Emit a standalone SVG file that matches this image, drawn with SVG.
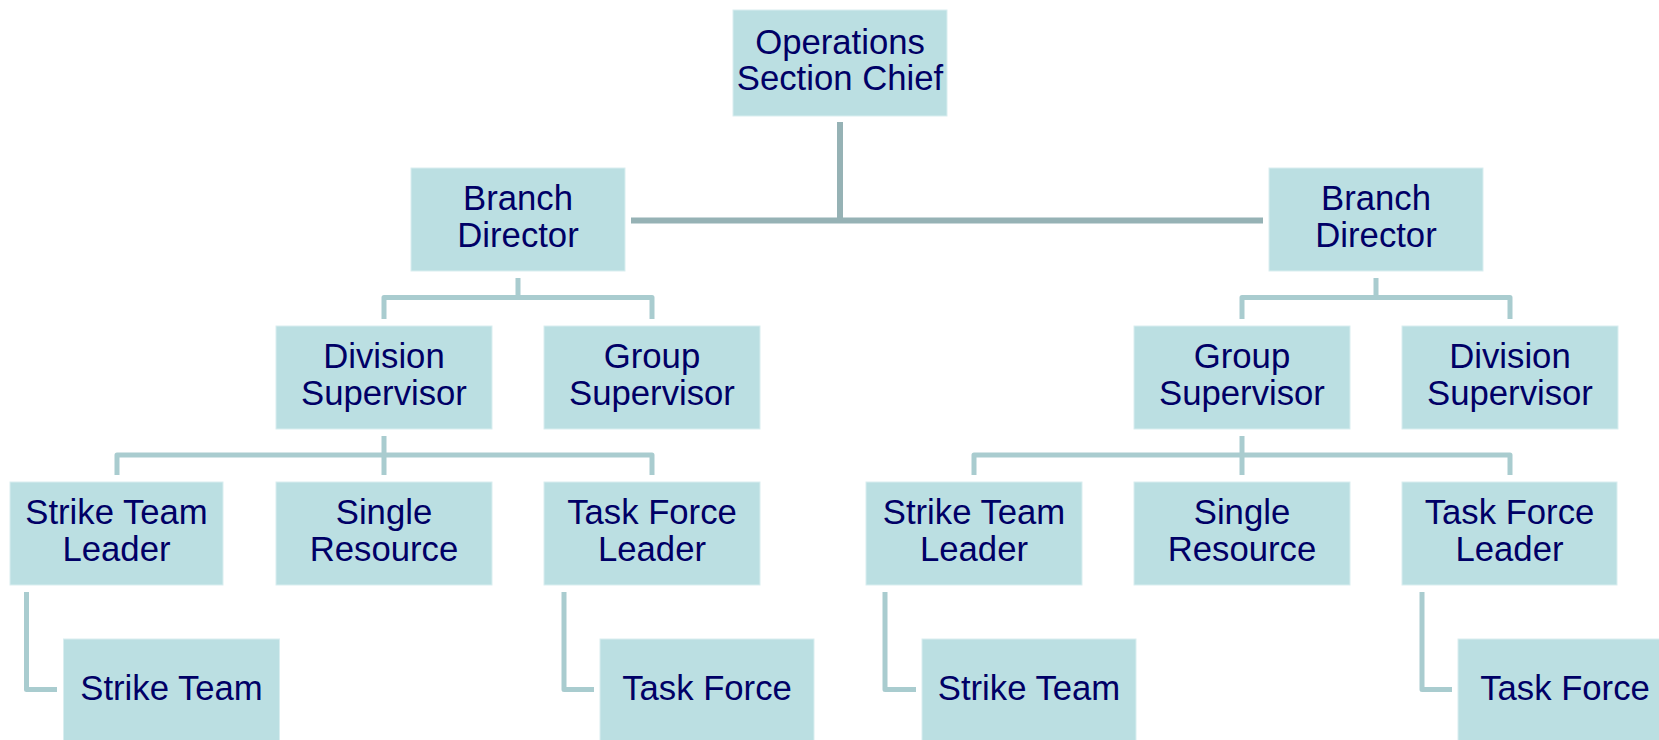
<svg xmlns="http://www.w3.org/2000/svg" width="1659" height="740" viewBox="0 0 1659 740">
<style>
.box{fill:#BBDFE2;stroke:#D9EEF0;stroke-width:1}
.t{font-family:"Liberation Sans",Arial,sans-serif;font-size:34.7px;fill:#000066;text-anchor:middle}
.c1{fill:none;stroke:#96B2B5;stroke-width:6}
.c2{fill:none;stroke:#A9CCCF;stroke-width:5;stroke-linejoin:round}
</style>
<rect width="1659" height="740" fill="#FFFFFF"/>
<g id="connectors">
<path class="c1" d="M840,122 V220.5 M631,220.5 H1263"/>
<path class="c2" d="M518,278 V297.5 M384,319 V297.5 H652 V319"/>
<path class="c2" d="M1376,278 V297.5 M1242,319 V297.5 H1510 V319"/>
<path class="c2" d="M384,436 V455 M117,475 V455 H652 V475 M384,455 V475"/>
<path class="c2" d="M1242,436 V455 M974,475 V455 H1510 V475 M1242,455 V475"/>
<path class="c2" d="M26.5,592 V689.5 H57"/>
<path class="c2" d="M564,592 V689.5 H594"/>
<path class="c2" d="M885,592 V689.5 H916"/>
<path class="c2" d="M1422,592 V689.5 H1452"/>
</g>
<g id="ops-chief"><rect class="box" x="733" y="10" width="214" height="106"/><text class="t" x="840" y="53.5">Operations</text><text class="t" x="840" y="90">Section Chief</text></g>
<g id="branch-left"><rect class="box" x="411" y="168" width="214" height="103"/><text class="t" x="518" y="210">Branch</text><text class="t" x="518" y="246.5">Director</text></g>
<g id="branch-right"><rect class="box" x="1269" y="168" width="214" height="103"/><text class="t" x="1376" y="210">Branch</text><text class="t" x="1376" y="246.5">Director</text></g>
<g id="div-sup-left"><rect class="box" x="276" y="326" width="216" height="103"/><text class="t" x="384" y="368">Division</text><text class="t" x="384" y="404.5">Supervisor</text></g>
<g id="grp-sup-left"><rect class="box" x="544" y="326" width="216" height="103"/><text class="t" x="652" y="368">Group</text><text class="t" x="652" y="404.5">Supervisor</text></g>
<g id="grp-sup-right"><rect class="box" x="1134" y="326" width="216" height="103"/><text class="t" x="1242" y="368">Group</text><text class="t" x="1242" y="404.5">Supervisor</text></g>
<g id="div-sup-right"><rect class="box" x="1402" y="326" width="216" height="103"/><text class="t" x="1510" y="368">Division</text><text class="t" x="1510" y="404.5">Supervisor</text></g>
<g id="stl-left"><rect class="box" x="10" y="482" width="213" height="103"/><text class="t" x="116.5" y="524">Strike Team</text><text class="t" x="116.5" y="560.5">Leader</text></g>
<g id="sr-left"><rect class="box" x="276" y="482" width="216" height="103"/><text class="t" x="384" y="524">Single</text><text class="t" x="384" y="560.5">Resource</text></g>
<g id="tfl-left"><rect class="box" x="544" y="482" width="216" height="103"/><text class="t" x="652" y="524">Task Force</text><text class="t" x="652" y="560.5">Leader</text></g>
<g id="stl-right"><rect class="box" x="866" y="482" width="216" height="103"/><text class="t" x="974" y="524">Strike Team</text><text class="t" x="974" y="560.5">Leader</text></g>
<g id="sr-right"><rect class="box" x="1134" y="482" width="216" height="103"/><text class="t" x="1242" y="524">Single</text><text class="t" x="1242" y="560.5">Resource</text></g>
<g id="tfl-right"><rect class="box" x="1402" y="482" width="215" height="103"/><text class="t" x="1509.5" y="524">Task Force</text><text class="t" x="1509.5" y="560.5">Leader</text></g>
<g id="st-left"><rect class="box" x="63.5" y="639" width="216" height="103"/><text class="t" x="171.5" y="700">Strike Team</text></g>
<g id="tf-left"><rect class="box" x="600" y="639" width="214" height="103"/><text class="t" x="707" y="700">Task Force</text></g>
<g id="st-right"><rect class="box" x="922" y="639" width="214" height="103"/><text class="t" x="1029" y="700">Strike Team</text></g>
<g id="tf-right"><rect class="box" x="1458" y="639" width="214" height="103"/><text class="t" x="1565" y="700">Task Force</text></g>
</svg>
